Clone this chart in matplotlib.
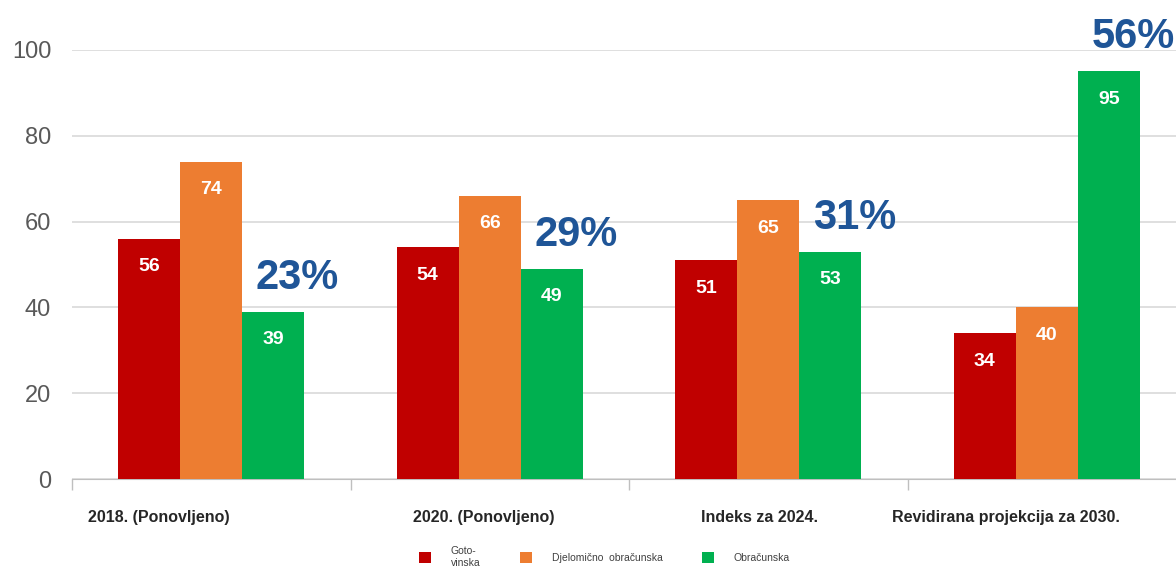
import numpy as np
import matplotlib.pyplot as plt
from matplotlib.patches import Patch
import matplotlib.transforms as mtransforms

plt.rcParams['font.family'] = ['Liberation Sans', 'DejaVu Sans']

# Data
categories = ['2018. (Ponovljeno)', '2020. (Ponovljeno)', 'Indeks za 2024.',
              'Revidirana projekcija za 2030.']
gotovinska = [56, 54, 51, 34]
djelomicno = [74, 66, 65, 40]
obracunska = [39, 49, 53, 95]
shares = ['23%', '29%', '31%', '56%']
series_names = ['Goto-\nvinska', 'Djelomično  obračunska', 'Obračunska']
colors = ['#C00000', '#ED7D31', '#00B050']

# label nudges (pixels) to mimic the original text placement
label_shift = [-52, -6, -9, -41]

fig = plt.figure(figsize=(11.76, 5.75), dpi=100)
ax = fig.add_axes([72 / 1176, 96 / 575, 1114 / 1176, 429 / 575])

x = np.arange(len(categories))
w = 0.223
series = [gotovinska, djelomicno, obracunska]
for i, (vals, col) in enumerate(zip(series, colors)):
    bars = ax.bar(x + (i - 1) * w, vals, w, color=col, zorder=3)
    for b, v in zip(bars, vals):
        ax.annotate(str(v), (b.get_x() + b.get_width() / 2, v),
                    xytext=(0, -28), textcoords='offset pixels',
                    ha='center', va='center', color='white',
                    fontsize=14, fontweight='bold', zorder=4)

for xi, v, s in zip(x, obracunska, shares):
    ax.annotate(s, (xi + w, v), xytext=(24, 14), textcoords='offset pixels',
                ha='center', va='bottom', color='#1F5597',
                fontsize=30, fontweight='bold', annotation_clip=False)

ax.set_xlim(-0.5, len(categories) - 0.5)
ax.set_ylim(0, 100)
ax.set_yticks(range(0, 101, 20))
ax.tick_params(axis='y', length=0, labelsize=17, labelcolor='#595959', pad=15)
ax.grid(axis='y', color='#D9D9D9', linewidth=1.2, zorder=0)

ax.set_xticks(np.arange(len(categories) + 1) - 0.5)
ax.set_xticklabels([])
ax.tick_params(axis='x', length=8, color='#BFBFBF', width=1)
for side in ['top', 'right', 'left']:
    ax.spines[side].set_visible(False)
ax.spines['bottom'].set_color('#BFBFBF')

for xi, name, dx in zip(x, categories, label_shift):
    tr = ax.get_xaxis_transform() + mtransforms.ScaledTranslation(dx / 100, 0, fig.dpi_scale_trans)
    ax.text(xi, -0.09, name, transform=tr, ha='center', va='center',
            fontsize=11.5, fontweight='bold', color='#262626')

handles = [Patch(facecolor=c) for c in colors]
fig.legend(handles, series_names, loc='lower center', bbox_to_anchor=(0.514, -0.004),
           ncol=3, frameon=False, fontsize=7.5, handlelength=1.15, handleheight=1.15,
           columnspacing=3.8, handletextpad=1.9, labelcolor='#404040')

fig.savefig('out.png', dpi=100)
